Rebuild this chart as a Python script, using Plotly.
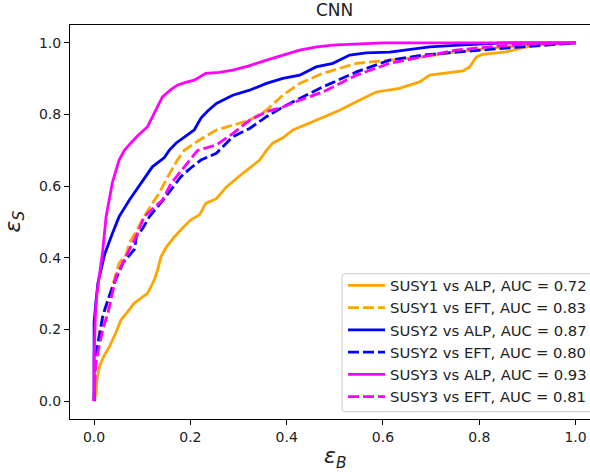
import plotly.graph_objects as go

# ---- data ----
labels = ["SUSY1 vs ALP, AUC = 0.72", "SUSY1 vs EFT, AUC = 0.83",
          "SUSY2 vs ALP, AUC = 0.87", "SUSY2 vs EFT, AUC = 0.80",
          "SUSY3 vs ALP, AUC = 0.93", "SUSY3 vs EFT, AUC = 0.81"]

s1_alp_x = [0, 0.004, 0.006, 0.011, 0.02, 0.032, 0.045, 0.056, 0.07, 0.083, 0.111, 0.125, 0.132, 0.139,
            0.15, 0.167, 0.185, 0.201, 0.219, 0.232, 0.254, 0.275, 0.309, 0.344, 0.358, 0.371, 0.392,
            0.413, 0.461, 0.51, 0.551, 0.586, 0.634, 0.676, 0.697, 0.731, 0.766, 0.78, 0.794, 0.807,
            0.856, 0.898, 0.925, 1.0]
s1_alp_y = [0, 0.022, 0.06, 0.096, 0.125, 0.152, 0.19, 0.227, 0.25, 0.273, 0.301, 0.338, 0.366, 0.403,
            0.43, 0.459, 0.485, 0.506, 0.52, 0.552, 0.565, 0.598, 0.636, 0.673, 0.70, 0.72, 0.735,
            0.757, 0.784, 0.812, 0.84, 0.863, 0.873, 0.891, 0.91, 0.916, 0.922, 0.933, 0.961, 0.968,
            0.975, 0.989, 0.996, 1.0]

s1_eft_x = [0, 0.003, 0.007, 0.011, 0.02, 0.032, 0.042, 0.052, 0.067, 0.073, 0.09, 0.104, 0.12, 0.135,
            0.153, 0.173, 0.187, 0.219, 0.254, 0.288, 0.323, 0.358, 0.392, 0.427, 0.475, 0.545, 0.614,
            0.683, 0.752, 0.821, 0.89, 1.0]
s1_eft_y = [0, 0.1, 0.15, 0.19, 0.24, 0.294, 0.34, 0.385, 0.41, 0.44, 0.48, 0.515, 0.55, 0.58,
            0.626, 0.673, 0.70, 0.729, 0.757, 0.77, 0.784, 0.812, 0.854, 0.887, 0.915, 0.943, 0.952,
            0.961, 0.975, 0.984, 0.993, 1.0]

s2_alp_x = [0, 0, 0.004, 0.008, 0.015, 0.022, 0.038, 0.052, 0.073, 0.097, 0.121, 0.146, 0.156, 0.17,
            0.19, 0.208, 0.222, 0.236, 0.254, 0.288, 0.323, 0.358, 0.392, 0.427, 0.461, 0.496, 0.531,
            0.565, 0.614, 0.65, 0.697, 0.75, 0.80, 0.85, 1.0]
s2_alp_y = [0, 0.22, 0.28, 0.33, 0.37, 0.41, 0.468, 0.515, 0.561, 0.608, 0.654, 0.68, 0.70, 0.72,
            0.74, 0.757, 0.79, 0.81, 0.831, 0.854, 0.868, 0.887, 0.901, 0.91, 0.933, 0.943, 0.966,
            0.972, 0.974, 0.98, 0.989, 0.993, 0.996, 1.0, 1.0]

s2_eft_x = [0, 0.002, 0.005, 0.012, 0.018, 0.028, 0.039, 0.06, 0.084, 0.088, 0.1, 0.115, 0.149, 0.18,
            0.2, 0.222, 0.254, 0.288, 0.323, 0.358, 0.392, 0.427, 0.475, 0.545, 0.614, 0.683, 0.752,
            0.821, 0.89, 0.95, 1.0]
s2_eft_y = [0, 0.1, 0.136, 0.19, 0.238, 0.28, 0.32, 0.386, 0.424, 0.461, 0.48, 0.515, 0.571, 0.626,
            0.65, 0.673, 0.692, 0.738, 0.761, 0.794, 0.821, 0.845, 0.877, 0.919, 0.952, 0.966, 0.975,
            0.982, 0.989, 0.996, 1.0]

s3_alp_x = [0, 0, 0.003, 0.006, 0.011, 0.018, 0.025, 0.038, 0.052, 0.063, 0.076, 0.09, 0.111, 0.125,
            0.142, 0.16, 0.173, 0.19, 0.208, 0.232, 0.26, 0.288, 0.32, 0.358, 0.39, 0.427, 0.46, 0.495,
            0.565, 0.6, 1.0]
s3_alp_y = [0, 0.12, 0.25, 0.3, 0.35, 0.42, 0.515, 0.61, 0.673, 0.70, 0.72, 0.74, 0.766, 0.803,
            0.849, 0.87, 0.882, 0.89, 0.896, 0.915, 0.918, 0.924, 0.935, 0.952, 0.965, 0.98, 0.988, 0.994,
            0.998, 1.0, 1.0]

s3_eft_x = [0, 0.003, 0.008, 0.018, 0.029, 0.038, 0.046, 0.07, 0.088, 0.104, 0.142, 0.16, 0.187, 0.215,
            0.254, 0.288, 0.323, 0.358, 0.392, 0.427, 0.475, 0.545, 0.614, 0.683, 0.752, 0.821, 0.89, 1.0]
s3_eft_y = [0, 0.1, 0.136, 0.2, 0.247, 0.3, 0.349, 0.414, 0.461, 0.515, 0.561, 0.608, 0.654, 0.70,
            0.715, 0.747, 0.784, 0.808, 0.821, 0.84, 0.863, 0.91, 0.943, 0.961, 0.98, 0.989, 0.996, 1.0]

tick_vals = [0.0, 0.2, 0.4, 0.6, 0.8, 1.0]

series = [
    (s1_alp_x, s1_alp_y, "orange", "solid"),
    (s1_eft_x, s1_eft_y, "orange", "11px,4px"),
    (s2_alp_x, s2_alp_y, "blue", "solid"),
    (s2_eft_x, s2_eft_y, "blue", "11px,4px"),
    (s3_alp_x, s3_alp_y, "magenta", "solid"),
    (s3_eft_x, s3_eft_y, "magenta", "11px,4px"),
]

FONT = "DejaVu Sans"

fig = go.Figure()
for i, (xs, ys, col, dash) in enumerate(series):
    fig.add_trace(go.Scatter(x=xs, y=ys, mode="lines", name=labels[i],
                             line=dict(color=col, width=2.8, dash=dash)))

# legend frame (rounded box, semi-transparent white like matplotlib)
lx0, lx1, ly0, ly1 = 0.5231, 1.01, 0.0185, 0.3688
rx, ry = 3 / 520, 3 / 394
frame = (f"M{lx0 + rx},{ly0} L{lx1 - rx},{ly0} Q{lx1},{ly0} {lx1},{ly0 + ry} "
         f"L{lx1},{ly1 - ry} Q{lx1},{ly1} {lx1 - rx},{ly1} L{lx0 + rx},{ly1} "
         f"Q{lx0},{ly1} {lx0},{ly1 - ry} L{lx0},{ly0 + ry} Q{lx0},{ly0} {lx0 + rx},{ly0} Z")

fig.update_layout(
    width=590, height=476,
    margin=dict(l=70, r=0, t=25, b=57, autoexpand=False),
    plot_bgcolor="white", paper_bgcolor="white",
    font=dict(family=FONT, size=14, color="black"),
    showlegend=True,
    legend=dict(x=0.525, xanchor="left", y=0.3800, yanchor="top",
                bgcolor="rgba(0,0,0,0)", borderwidth=0,
                font=dict(family=FONT, size=14.8, color="#222222"),
                itemwidth=37),
    shapes=[dict(type="path", xref="paper", yref="paper", path=frame,
                 fillcolor="rgba(255,255,255,0.8)", line=dict(color="#cccccc", width=1),
                 layer="above")],
)
fig.update_xaxes(range=[-0.05, 1.03], tickvals=tick_vals, tickformat=".1f",
                 showgrid=False, zeroline=False, showline=True, linecolor="black",
                 linewidth=1, mirror=True, ticks="outside", ticklen=5, tickwidth=1,
                 tickcolor="black", tickfont=dict(family=FONT, size=14, color="#222222"))
fig.update_yaxes(range=[-0.05, 1.05], tickvals=tick_vals, tickformat=".1f",
                 showgrid=False, zeroline=False, showline=True, linecolor="black",
                 linewidth=1, mirror=False, ticks="outside", ticklen=5, tickwidth=1,
                 tickcolor="black", tickfont=dict(family=FONT, size=14, color="#222222"))

fig.add_annotation(text="CNN", xref="x", x=0.5, yref="paper", y=1.0, yanchor="bottom",
                   yshift=3, showarrow=False, font=dict(family=FONT, size=17, color="#222222"))
fig.add_annotation(text="<i>ε</i><sub><i>B</i></sub>", xref="x", x=0.5, yref="paper", y=0,
                   yanchor="top", yshift=-22, showarrow=False,
                   font=dict(family=FONT, size=22, color="#222222"))
fig.add_annotation(text="<i>ε</i><sub><i>S</i></sub>", xref="paper", x=0, xanchor="right",
                   xshift=-40, yref="paper", y=0.5, textangle=-90, showarrow=False,
                   font=dict(family=FONT, size=22, color="#222222"))

fig.write_html("out.html", config={"displayModeBar": False},
               post_script="document.body.style.margin='0';")
